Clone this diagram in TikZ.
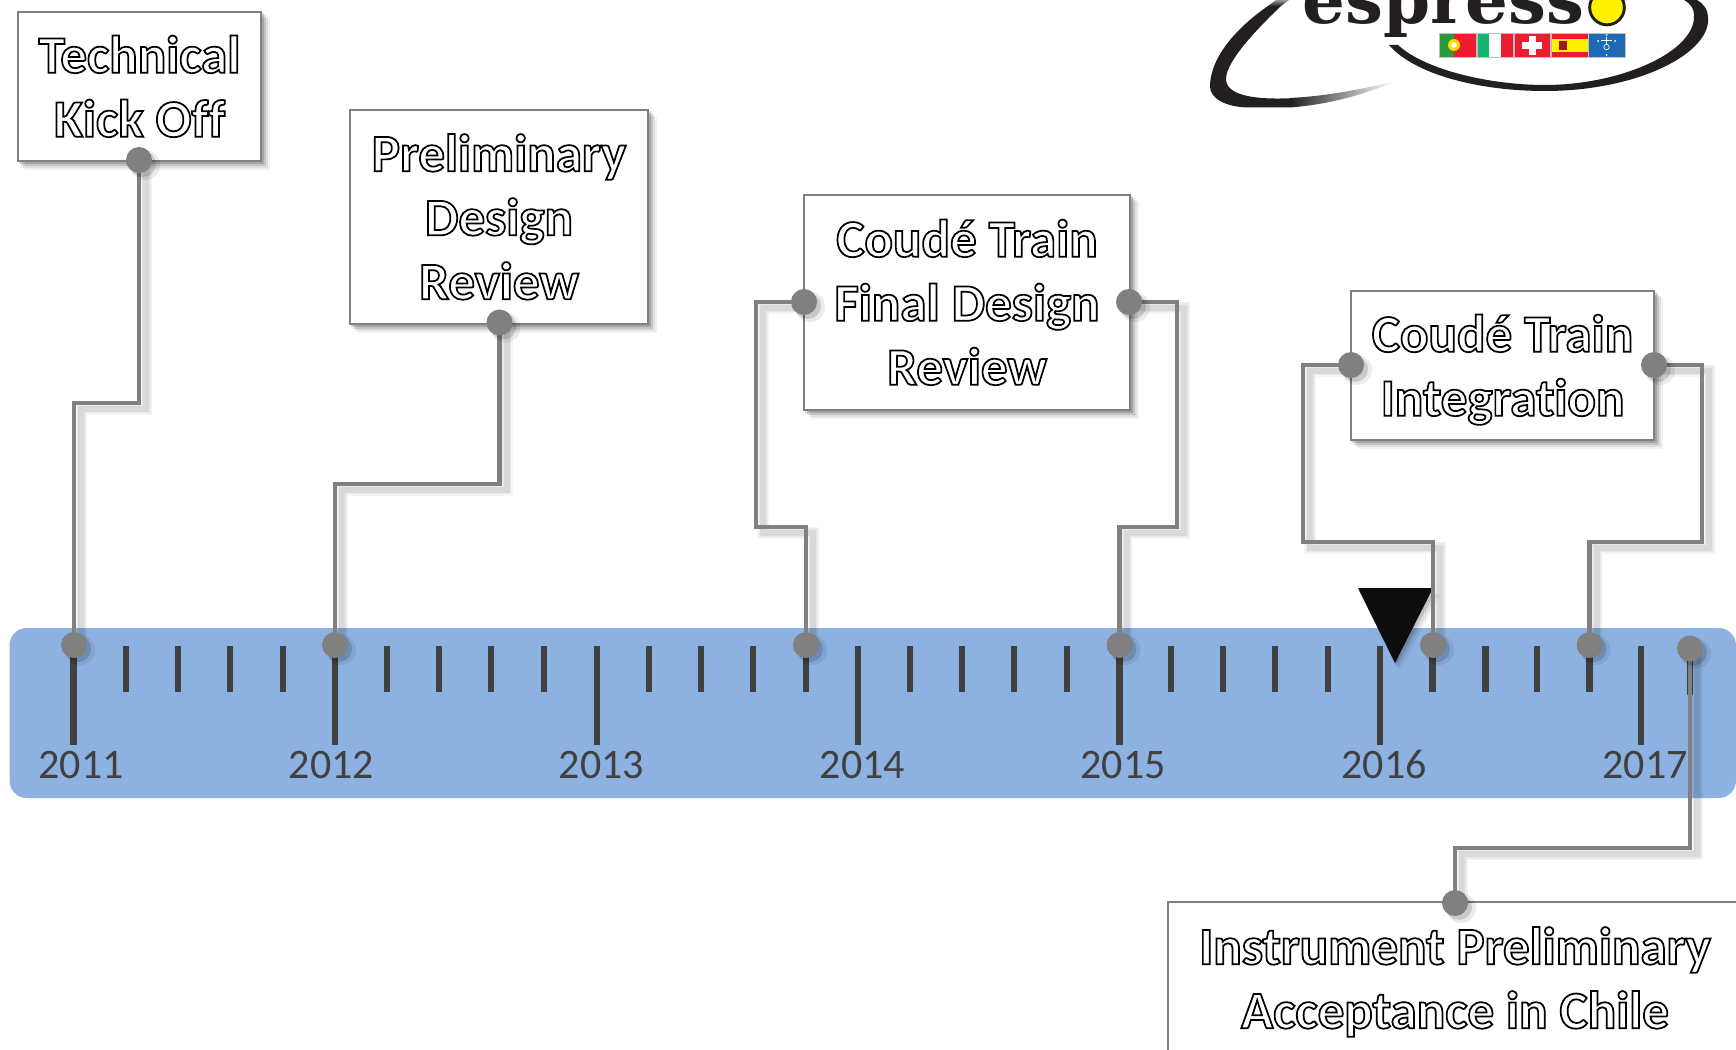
\documentclass[tikz,border=0pt]{standalone}
\usepackage{fontspec}
\setmainfont{Carlito}[RawFeature=-liga]
\newfontfamily\logofont{DejaVu Serif}[Scale=1]
\usetikzlibrary{calc}
\pgfdeclarelayer{bandlayer}
\pgfdeclarelayer{shadowlayer}
\pgfdeclarelayer{connlayer}
\pgfsetlayers{bandlayer,shadowlayer,connlayer,main}
\definecolor{bandblue}{RGB}{141,178,226}
\definecolor{tickgrey}{RGB}{64,64,64}
\definecolor{conngrey}{RGB}{128,128,128}
\definecolor{logoblack}{RGB}{35,31,32}
\definecolor{pgreen}{RGB}{42,154,60}
\definecolor{fred}{RGB}{237,28,46}
\definecolor{igreen}{RGB}{20,180,110}
\definecolor{fyellow}{RGB}{255,242,0}
\definecolor{esoblue}{RGB}{30,106,181}
\newcommand{\outl}[1]{\rule[-10pt]{0pt}{47.5pt}\special{pdf:code q 2 Tr 1.3 w 1 g 0 G}#1\special{pdf:code Q}}
\newcommand{\connect}[1]{%
  \begin{pgfonlayer}{shadowlayer}
    \draw[connshadow,line width=12*.75pt,opacity=.04] #1;
    \draw[connshadow,line width=9*.75pt,opacity=.05] #1;
    \draw[connshadow,line width=6*.75pt,opacity=.07] #1;
  \end{pgfonlayer}
  \begin{pgfonlayer}{connlayer}
    \draw[conn] #1;
  \end{pgfonlayer}}
\newcommand{\boxshadow}[1]{%
  \begin{pgfonlayer}{connlayer}
    \foreach \e/\o in {8/.05,6/.08,4/.12,2/.16}
      \fill[black,opacity=\o] ($(#1.north west)+(\e,\e)$) rectangle ($(#1.south east)+(\e,\e)$);
  \end{pgfonlayer}}
\tikzset{
  x=.75pt,y=-.75pt,
  conn/.style={draw=conngrey,line width=3.6pt*.75*1.3,line join=miter},
  connshadow/.style={draw=black,line join=miter,transform canvas={xshift=7*.75pt,yshift=-6*.75pt}},
  dotnode/.style={circle,fill=conngrey,draw=none,minimum size=19.5pt,inner sep=0pt},
  labelbox/.style={rectangle,draw=conngrey,line width=1.2pt,fill=white,inner sep=0pt,align=center,
    font=\bfseries\fontsize{39.8pt}{48pt}\selectfont},
  minor/.style={draw=tickgrey,line width=5.2pt},
  major/.style={draw=tickgrey,line width=5.2pt},
  yearlabel/.style={anchor=base,text=tickgrey,inner sep=0pt,font=\fontsize{31.5pt}{36pt}\selectfont},
  flagframe/.style={draw=black!25,line width=.5pt},
}
\begin{document}
\begin{tikzpicture}
\useasboundingbox (0,0) rectangle (1736,1049.5);
\clip (0,0) rectangle (1736,1049.5);
% band
\begin{pgfonlayer}{bandlayer}
\fill[bandblue,rounded corners=13pt] (9.5,628) rectangle (1736,798);
\foreach \x in {73.5,335,597,858,1119.5,1380,1641}
  \draw[major] (\x,646) -- (\x,745);
\foreach \x in {126,178,230,283,387,439,491,544,649,701,753,806,910,962,1014,1067,1171,1223,1275,1328,1432.5,1485.5,1537,1589.5}
  \draw[minor] (\x,646) -- (\x,692);
\draw[minor] (1690,649) -- (1690,695);
\end{pgfonlayer}
% years
\node[yearlabel] (y2011) at (81,778) {2011};
\node[yearlabel] (y2012) at (331.5,778) {2012};
\node[yearlabel] (y2013) at (601.5,778) {2013};
\node[yearlabel] (y2014) at (862.5,778) {2014};
\node[yearlabel] (y2015) at (1123,778) {2015};
\node[yearlabel] (y2016) at (1384,778) {2016};
\node[yearlabel] (y2017) at (1645,778) {2017};
% today marker
\begin{pgfonlayer}{shadowlayer}
\foreach \e/\o in {7/.06,5/.08,3/.12}
  \fill[black,opacity=\o] (1358+\e-2,588+\e) -- (1433+\e,588+\e) -- (1395+\e-2,663+\e) -- cycle;
\fill[black!95] (1358,588) -- (1433,588) -- (1395,663) -- cycle;
\end{pgfonlayer}
% boxes
\node[labelbox,minimum width=182pt,minimum height=111.75pt] (tko) at (139.5,86.5) {\outl{Technical}\\\outl{Kick Off}};
\node[labelbox,minimum width=223.5pt,minimum height=160.5pt] (pdr) at (499,217) {\outl{Preliminary}\\\outl{Design}\\\outl{Review}};
\node[labelbox,minimum width=244.5pt,minimum height=161.25pt] (fdr) at (967,302.5) {\outl{Coudé Train}\\\outl{Final Design}\\\outl{Review}};
\node[labelbox,minimum width=227.25pt,minimum height=111.75pt] (cti) at (1502.5,365.5) {\outl{Coudé Train}\\\outl{Integration}};
\node[labelbox,minimum width=430.5pt,minimum height=114pt] (ipa) at (1455,978) {\outl{Instrument Preliminary}\\\outl{Acceptance in Chile}};
\boxshadow{tko}\boxshadow{pdr}\boxshadow{fdr}\boxshadow{cti}\boxshadow{ipa}
% dots
\foreach \n/\x/\y in {b1/139/160,a1/74/645,b2/499.5/322.5,a2/335/645,
  b3l/804/302,a3l/806/645,b3r/1129/302,a3r/1119.5/645,
  b4l/1351/365,a4l/1433/645,b4r/1654/365,a4r/1589.5/645,
  a5/1690/648.5,b5/1455/903}{
  \fill[black,opacity=.08] (\x+6,\y+5) circle (15);
  \fill[black,opacity=.14] (\x+4,\y+4) circle (13);
  \node[dotnode] (\n) at (\x,\y) {};
}
% elbow points
\coordinate (e1) at (74,403);
\coordinate (e2) at (335,484);
\coordinate (e3l) at (756,527);
\coordinate (e3r) at (1177,527);
\coordinate (e4l) at (1303,542);
\coordinate (e4r) at (1702,542);
\coordinate (e5) at (1455,848);
% connectors
\connect{(b1.center) |- (e1) -- (a1.center)}
\connect{(b2.center) |- (e2) -- (a2.center)}
\connect{(b3l.center) -| (e3l) -| (a3l.center)}
\connect{(b3r.center) -| (e3r) -| (a3r.center)}
\connect{(b4l.center) -| (e4l) -| (a4l.center)}
\connect{(b4r.center) -| (e4r) -| (a4r.center)}
\connect{(a5.center) |- (e5) -- (b5.center)}
% logo
\node[anchor=base west,inner sep=0pt,text=logoblack,font=\logofont\bfseries\fontsize{50.5pt}{54pt}\selectfont] (esp) at (1302,23.5) {espress\textcolor{white}{o}};
\node[circle,fill=fyellow,draw=logoblack,line width=2.2pt,minimum size=26pt,inner sep=0pt] (yo) at (1607,7.5) {};
% swoosh
\fill[logoblack] (1268,6) .. controls (1236,28) and (1210,58) .. (1210,86.5)
  .. controls (1210,98) and (1225,107.5) .. (1250,107.5) -- (1290,107.5)
  -- (1295,98) .. controls (1250,100.5) and (1226,94) .. (1226,79)
  .. controls (1226,61) and (1258,28) .. (1281,6) -- cycle;
\shade[left color=logoblack,middle color=logoblack,right color=white] (1290,107.5)
  .. controls (1330,104.5) and (1365,94) .. (1394,82)
  .. controls (1365,88) and (1330,96) .. (1290,98) -- cycle;
\shade[bottom color=logoblack,top color=black!40] (1268,6) -- (1276,0) -- (1289,0) -- (1281,6) -- cycle;
\fill[logoblack] (1389,45) .. controls (1415,75) and (1480,91) .. (1545,91)
  .. controls (1640,91) and (1712,52) .. (1708,17)
  .. controls (1708,10) and (1704,4) .. (1697,0) -- (1684,0)
  .. controls (1691,4) and (1694,9) .. (1694,15)
  .. controls (1696,52) and (1620,85) .. (1545,85)
  .. controls (1490,85) and (1425,70) .. (1398,45) -- cycle;
% flags
\fill[fred] (1439,33) rectangle (1476,57.5);
\fill[pgreen] (1439,33) rectangle (1454,57.5);
\fill[fyellow!80!orange] (1454,45) circle (6);
\fill[white] (1454,45) circle (2.8);
\draw[flagframe] (1439,33) rectangle (1476,57.5);
\fill[igreen] (1477,33) rectangle (1489,57.5);
\fill[white] (1489,33) rectangle (1501,57.5);
\fill[fred] (1501,33) rectangle (1513,57.5);
\draw[flagframe] (1477,33) rectangle (1513,57.5);
\fill[fred] (1514,33) rectangle (1550,57.5);
\fill[white] (1522,42) rectangle (1542,49);
\fill[white] (1528.5,36) rectangle (1535.5,55);
\draw[flagframe] (1514,33) rectangle (1550,57.5);
\fill[fred] (1551,33) rectangle (1588,57.5);
\fill[fyellow] (1551,39) rectangle (1588,52);
\fill[fred!70!black] (1559,41.5) rectangle (1567,50);
\draw[flagframe] (1551,33) rectangle (1588,57.5);
\fill[esoblue] (1588.5,33) rectangle (1625,57.5);
\draw[flagframe] (1588.5,33) rectangle (1625,57.5);
\draw[white,line width=.5pt] (1606.5,47) circle (2.7);
\draw[white,line width=.6pt] (1601,40) -- (1612,40);
\draw[white,line width=.6pt] (1606.5,37) -- (1606.5,44);
\foreach \p in {(1598,41),(1615,41),(1606.5,35),(1606.5,55)}
  \fill[white] \p circle (1);
\end{tikzpicture}
\end{document}
